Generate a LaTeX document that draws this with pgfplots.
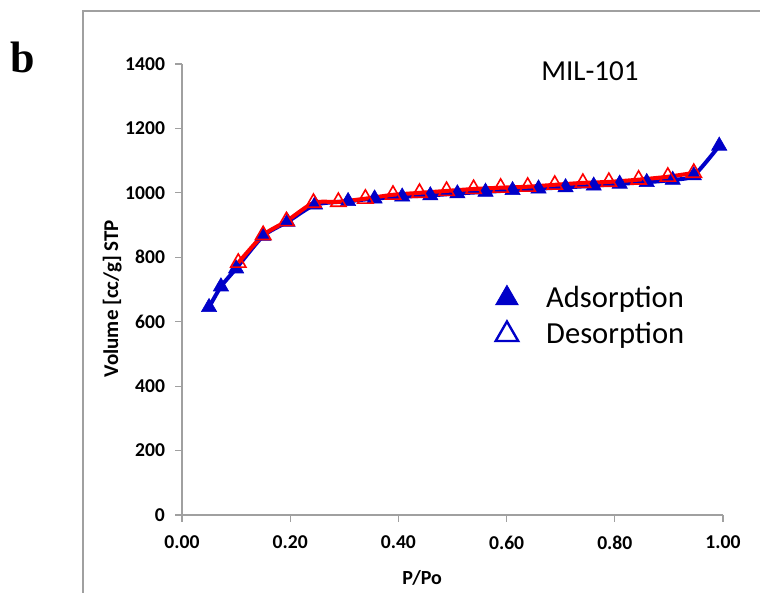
\documentclass[border=0pt]{standalone}
\usepackage{pgfplots}
\pgfplotsset{compat=1.18}
\usepackage{fontspec}
\setmainfont{Carlito}
\newfontfamily\serifb{Liberation Serif}
\definecolor{adsblue}{RGB}{0,0,200}
\definecolor{desred}{RGB}{255,0,0}
\definecolor{axgray}{RGB}{160,160,160}

\pgfplotstableread{
p v
0.050 645
0.072 709
0.100 765
0.150 866
0.195 910
0.246 963
0.307 974
0.356 982
0.407 988
0.459 992
0.509 998
0.561 1003
0.611 1008
0.659 1013
0.709 1017
0.761 1022
0.809 1028
0.859 1033
0.907 1040
0.946 1054
0.993 1146
}\adsorption

\pgfplotstableread{
p v
0.946 1062
0.898 1050
0.844 1041
0.789 1034
0.741 1031
0.689 1025
0.639 1019
0.589 1016
0.539 1012
0.489 1006
0.439 1000
0.390 994
0.339 982
0.289 972
0.243 969
0.193 912
0.150 869
0.104 783
}\desorption

\begin{document}
\begin{tikzpicture}
\useasboundingbox (0,0) rectangle (380pt,296.5pt);
\draw[axgray, line width=0.6pt] (41.5pt,0) -- (41.5pt,291pt) -- (381pt,291pt);
\node[font=\serifb\bfseries\fontsize{22}{24}\selectfont] at (11.5pt,268pt) {b};
\begin{axis}[at={(91pt,39pt)}, anchor=south west,
  scale only axis, width=270.5pt, height=225.5pt,
  xmin=0, xmax=1, ymin=0, ymax=1400,
  axis x line*=bottom, axis y line*=left,
  axis line style={axgray, line width=0.6pt},
  tick align=outside, major tick length=3.5pt,
  tick style={axgray, line width=0.6pt},
  xtick={0,0.2,0.4,0.6,0.8,1}, ytick={0,200,...,1400},
  minor tick num=0,
  /pgf/number format/assume math mode=true,
  xticklabel={\pgfmathprintnumber[fixed,fixed zerofill,precision=2]{\tick}},
  yticklabel={\pgfmathprintnumber[fixed,precision=0,1000 sep={}]{\tick}},
  ticklabel style={font=\bfseries\fontsize{9.8}{11}\selectfont},
  xticklabel style={yshift=-3.5pt},
  yticklabel style={xshift=-1.5pt},
  xlabel={P/Po}, ylabel={Volume [cc/g] STP},
  xlabel style={font=\bfseries\fontsize{10}{12}\selectfont, at={(axis description cs:0.444,0)}, anchor=center, yshift=-31.5pt},
  ylabel style={font=\bfseries\fontsize{10.5}{12}\selectfont, at={(axis description cs:-0.129,0.48)}, anchor=center},
  clip=false,
  legend style={at={(rel axis cs:0.568,0.526)}, anchor=north west, draw=none, fill=none,
    font=\fontsize{15.3}{18}\selectfont, row sep=2pt,
    /tikz/every odd column/.append style={column sep=12pt}},
  legend cell align=left,
]
\addlegendimage{only marks, mark=triangle*, mark size=6.5pt, color=adsblue}
\addlegendentry{Adsorption}
\addlegendimage{only marks, mark=triangle, mark size=6.5pt, mark options={draw=adsblue, line width=1.2pt}}
\addlegendentry{Desorption}
\addplot[forget plot, adsblue, line width=2pt, smooth, tension=0.4, mark=triangle*, mark size=4.4pt, mark options={fill=adsblue, draw=adsblue, line width=0.3pt}] table[x=p,y=v] {\adsorption};
\addplot[forget plot, desred, line width=2pt, smooth, tension=0.4, mark=triangle, mark size=4.4pt, mark options={draw=desred, line width=0.8pt}] table[x=p,y=v] {\desorption};
\node[font=\fontsize{14.5}{16}\selectfont] at (rel axis cs:0.754,0.984) {MIL-101};
\end{axis}
\end{tikzpicture}
\end{document}
